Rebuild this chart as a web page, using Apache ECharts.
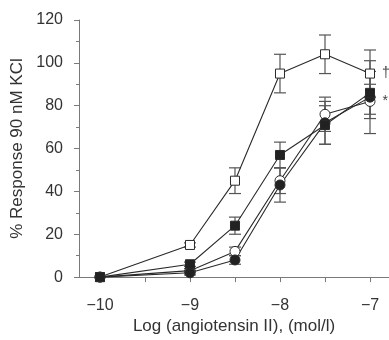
<!DOCTYPE html>
<html><head><meta charset="utf-8">
<script src="https://cdn.jsdelivr.net/npm/echarts@6/dist/echarts.min.js"></script>
<style>html,body{margin:0;padding:0;background:#fff}#c{width:389px;height:340px}</style>
</head><body><div id="c"></div>
<script>
var logDose = [-10, -9, -8.5, -8, -7.5, -7];
var openSquare = [0, 15, 45, 95, 104, 95];
var openSquareErr = [0, 1, 6, 9, 9, 11];
var filledSquare = [0, 6, 24, 57, 71, 86];
var filledSquareErr = [0, 1, 4, 6, 9, 10];
var openCircle = [0, 3, 12, 45, 76, 82];
var openCircleErr = [0, 1, 2, 6, 8, 8];
var filledCircle = [0, 2, 8, 43, 72, 84];
var filledCircleErr = [0, 1, 2, 8, 10, 17];
var xTicks = [-10, -9.5, -9, -8.5, -8, -7.5, -7];
var xLabels = [-10, -9, -8, -7];
var yTicks = [0, 20, 40, 60, 80, 100, 120];

var ink = '#2a2a2a';
var axisCol = '#7a7a7a';
var font = 'Liberation Sans, Arial, sans-serif';

function pts(vals){ return logDose.map(function(x,i){ return [x, vals[i]]; }); }
function errData(vals, errs){ return logDose.map(function(x,i){ return [x, vals[i]-errs[i], vals[i]+errs[i]]; }); }

function errSeries(vals, errs){
  return {
    type: 'custom', z: 1, silent: true,
    data: errData(vals, errs),
    renderItem: function(params, api){
      var x = api.value(0);
      if (api.value(2) - api.value(1) < 0.5) return null;
      var lo = api.coord([x, api.value(1)]);
      var hi = api.coord([x, api.value(2)]);
      var w = 6;
      var st = {stroke: '#555', lineWidth: 1.2, fill: null};
      return {type: 'group', children: [
        {type: 'line', shape: {x1: lo[0], y1: lo[1], x2: hi[0], y2: hi[1]}, style: st},
        {type: 'line', shape: {x1: lo[0]-w, y1: lo[1], x2: lo[0]+w, y2: lo[1]}, style: st},
        {type: 'line', shape: {x1: hi[0]-w, y1: hi[1], x2: hi[0]+w, y2: hi[1]}, style: st}
      ]};
    }
  };
}

function lineSeries(vals, symbol, filled, lastLabel){
  var d = pts(vals);
  if (lastLabel) {
    var last = d.length - 1;
    d[last] = {value: d[last], label: {show: true, position: 'right', distance: 7, formatter: lastLabel, color: '#444', fontSize: 14, fontFamily: font}};
  }
  return {
    type: 'line', z: 3, data: d, symbol: symbol, symbolSize: symbol === 'rect' ? 9 : 10,
    lineStyle: {color: ink, width: 1.1},
    itemStyle: {color: filled ? '#222' : '#fff', borderColor: ink, borderWidth: 1},
    emphasis: {disabled: true},
    animation: false
  };
}

var chart = echarts.init(document.getElementById('c'), null, {renderer: 'canvas'});
chart.setOption({
  animation: false,
  grid: {left: 79, right: 0, top: 20, bottom: 59, containLabel: false},
  xAxis: {
    type: 'value', min: -10.233, max: -6.789,
    name: 'Log (angiotensin II), (mol/l)', nameLocation: 'middle', nameGap: 40,
    nameTextStyle: {color: '#333', fontSize: 17, fontFamily: font},
    axisLine: {show: true, lineStyle: {color: axisCol, width: 1}},
    axisTick: {show: true, length: 5, inside: false, customValues: xTicks, lineStyle: {color: axisCol}},
    axisLabel: {customValues: xLabels, margin: 20, color: '#333', fontSize: 16, fontFamily: font,
      formatter: function(v){ return String(v).replace('-', '\u2212'); }},
    splitLine: {show: false}
  },
  yAxis: {
    type: 'value', min: 0, max: 120, interval: 20,
    name: '% Response 90 nM KCl', nameLocation: 'middle', nameGap: 52, nameRotate: 90,
    nameTextStyle: {color: '#333', fontSize: 17, fontFamily: font},
    axisLine: {show: true, lineStyle: {color: axisCol, width: 1}},
    axisTick: {show: true, length: 5, lineStyle: {color: axisCol}},
    minorTick: {show: true, splitNumber: 2, length: 3, lineStyle: {color: axisCol}},
    axisLabel: {margin: 16, color: '#333', fontSize: 16, fontFamily: font},
    splitLine: {show: false}
  },
  series: [
    errSeries(openSquare, openSquareErr),
    errSeries(filledSquare, filledSquareErr),
    errSeries(openCircle, openCircleErr),
    errSeries(filledCircle, filledCircleErr),
    lineSeries(openCircle, 'circle', false, '*'),
    lineSeries(filledCircle, 'circle', true),
    lineSeries(openSquare, 'rect', false, '\u2020'),
    lineSeries(filledSquare, 'rect', true)
  ]
});
</script>
</body></html>
